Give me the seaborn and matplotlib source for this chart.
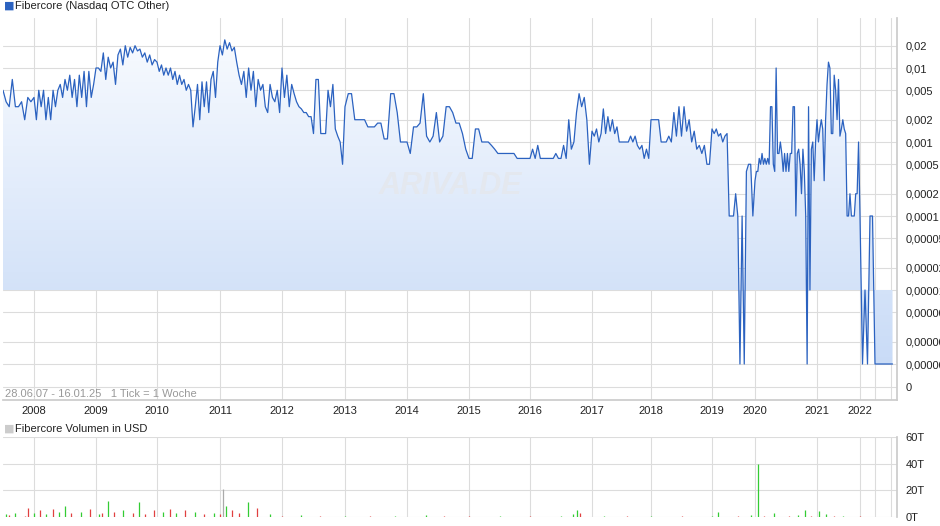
import numpy as np
import matplotlib
matplotlib.use("Agg")
import matplotlib.pyplot as plt
import seaborn as sns
from matplotlib.patches import Polygon

# price per year segment (values in USD)
price_segments = {
    2007.5: [0.005, 0.0035, 0.003, 0.007, 0.003, 0.003, 0.0035, 0.002, 0.004, 0.0035],
    2008: [0.004, 0.002, 0.005, 0.003, 0.005, 0.002, 0.004, 0.002, 0.005, 0.003, 0.005, 0.006, 0.004,
           0.007, 0.005, 0.008, 0.004, 0.007, 0.003, 0.008, 0.004, 0.009, 0.003, 0.009, 0.004, 0.006],
    2009: [0.01, 0.01, 0.009, 0.016, 0.007, 0.014, 0.01, 0.012, 0.006, 0.015, 0.018, 0.011, 0.02,
           0.014, 0.019, 0.016, 0.02, 0.017, 0.018, 0.014, 0.016, 0.012, 0.015, 0.011, 0.013],
    2010: [0.012, 0.009, 0.011, 0.008, 0.01, 0.008, 0.01, 0.007, 0.009, 0.006, 0.008, 0.006, 0.007,
           0.005, 0.006, 0.005, 0.0016, 0.003, 0.006, 0.002, 0.0065, 0.003, 0.0065, 0.0025, 0.007,
           0.009, 0.004, 0.012],
    2011: [0.02, 0.015, 0.024, 0.018, 0.022, 0.017, 0.019, 0.012, 0.008, 0.006, 0.009, 0.004, 0.01,
           0.005, 0.009, 0.003, 0.007, 0.005, 0.006, 0.003, 0.0025, 0.006, 0.004, 0.0035, 0.005, 0.0025],
    2012: [0.01, 0.004, 0.008, 0.003, 0.006, 0.0045, 0.0035, 0.003, 0.0028, 0.0025, 0.0025, 0.0022,
           0.0022, 0.0013, 0.007, 0.007, 0.0013, 0.0013, 0.0013, 0.005, 0.003, 0.006, 0.0015, 0.0012,
           0.001, 0.0005],
    2013: [0.003, 0.0045, 0.0045, 0.002, 0.002, 0.002, 0.002, 0.0016, 0.0016, 0.0016, 0.0018, 0.0018,
           0.0011, 0.0011, 0.0045, 0.0045, 0.0025, 0.001, 0.001],
    2014: [0.001, 0.0007, 0.0016, 0.0016, 0.0018, 0.0045, 0.0012, 0.001, 0.0012, 0.0025, 0.001,
           0.0012, 0.003, 0.003, 0.0025, 0.0018, 0.0018, 0.0013, 0.0008],
    2015: [0.0006, 0.0006, 0.0015, 0.0015, 0.001, 0.001, 0.001, 0.0009, 0.0008, 0.0007, 0.0007,
           0.0007, 0.0007, 0.0007, 0.0007, 0.0006, 0.0006, 0.0006, 0.0006],
    2016: [0.0006, 0.0008, 0.0006, 0.0009, 0.0006, 0.0006, 0.0006, 0.0006, 0.0006, 0.0006, 0.0007,
           0.0006, 0.0006, 0.0009, 0.0006, 0.002, 0.0008, 0.001, 0.0025, 0.0045, 0.003, 0.004, 0.002,
           0.0005],
    2017: [0.0014, 0.0012, 0.0015, 0.001, 0.0013, 0.0028, 0.0013, 0.0022, 0.0014, 0.002, 0.0013,
           0.0016, 0.001, 0.001, 0.001, 0.001, 0.001, 0.0012, 0.001, 0.0012, 0.0009, 0.0008, 0.0009,
           0.0006, 0.0008, 0.0006],
    2018: [0.002, 0.002, 0.002, 0.002, 0.001, 0.001, 0.001, 0.0012, 0.001, 0.0025, 0.0012, 0.003,
           0.0012, 0.003, 0.0014, 0.002, 0.001, 0.0014, 0.0008, 0.0009, 0.0007, 0.0009, 0.0005, 0.0005],
    2019: [0.0015, 0.0013, 0.0015, 0.0012, 0.0013, 0.001, 0.0012, 0.0013, 0.0001, 0.0001, 0.0001,
           0.0002, 0.0001, 0.000001, 0.0001, 0.000001, 0.0004, 0.0005, 0.0005, 0.0001],
    2020: [0.0003, 0.0004, 0.0004, 0.0006, 0.0005, 0.0007, 0.0005, 0.0006, 0.0005, 0.0006, 0.0005,
           0.003, 0.003, 0.0005, 0.0004, 0.01, 0.0007, 0.0007, 0.001, 0.0007, 0.0004, 0.0007, 0.0004,
           0.0007, 0.0004, 0.0007, 0.0007, 0.003, 0.003, 0.0001, 0.0007, 0.0008, 0.0005, 0.0002,
           0.0008, 0.0004, 0.0001, 0.000001, 0.003, 0.00001, 0.0008, 0.001, 0.0003, 0.001],
    2021: [0.002, 0.001, 0.0015, 0.002, 0.0015, 0.0003, 0.002, 0.006, 0.012, 0.01, 0.0013, 0.0013,
           0.008, 0.005, 0.002, 0.007, 0.0012, 0.0015, 0.002, 0.0015, 0.0013, 0.0001, 0.0001, 0.0002,
           0.0001, 0.0001, 0.0001, 0.0002, 0.0002, 0.001],
    2022: [0.0001, 0.000001, 0.00001, 0.000001, 0.0001, 0.0001, 0.000001, 0.000001, 0.000001,
           0.000001, 0.000001, 0.000001, 0.000001, 0.000001],
}
segment_end = {2007.5: 2008, 2022: 2022.9}

# volume bars (year, thousands USD, up/down)
vol_dates = [2007.55, 2007.6, 2007.7, 2007.85, 2007.9, 2008.0, 2008.1, 2008.2, 2008.3, 2008.4,
             2008.5, 2008.6, 2008.75, 2008.9, 2009.05, 2009.1, 2009.2, 2009.3, 2009.45, 2009.6,
             2009.7, 2009.8, 2009.95, 2010.1, 2010.2, 2010.3, 2010.45, 2010.6, 2010.75, 2010.9,
             2011.0, 2011.05, 2011.1, 2011.2, 2011.3, 2011.45, 2011.6, 2011.8, 2012.0, 2012.3,
             2012.6, 2013.0, 2013.4, 2013.8, 2014.3, 2014.6, 2015.0, 2015.5, 2016.0, 2016.5,
             2016.7, 2016.75, 2016.8, 2017.2, 2017.6, 2018.0, 2018.5, 2019.0, 2019.15, 2019.6,
             2019.9, 2020.05, 2020.15, 2020.3, 2020.55, 2020.7, 2020.8, 2020.9, 2021.05, 2021.2,
             2021.4, 2021.6, 2022.0, 2022.3, 2022.6]
vol_values = [2, 1.5, 3, 1, 7, 3, 5, 2, 6, 4, 8, 3, 4, 6, 2, 3, 12, 4, 5, 3, 11, 2, 5, 4, 6, 3, 5,
              4, 2, 3, 2, 21, 8, 5, 3, 11, 7, 2, 1, 1.5, 1, 1, 0.8, 0.7, 1.5, 1, 0.8, 1, 0.7, 0.8,
              2, 5, 3, 1, 0.8, 1, 0.8, 1, 4, 1, 1.5, 40, 1, 3, 1, 1.5, 5.5, 1, 4.5, 2, 1, 0.5,
              0.5, 0.3, 0.3]
vol_up = [1, 0, 1, 0, 0, 1, 0, 1, 0, 1, 1, 0, 1, 0, 1, 0, 1, 0, 1, 0, 1, 0, 0, 1, 0, 1, 0, 1, 0,
          1, 0, 2, 1, 0, 0, 1, 0, 1, 0, 1, 0, 1, 0, 1, 1, 0, 0, 1, 0, 1, 1, 1, 0, 1, 0, 1, 0, 1,
          1, 0, 1, 1, 0, 1, 0, 1, 1, 0, 1, 1, 0, 1, 0, 1, 0]

year_ticks = list(range(2008, 2023))
tick_px = [34, 96, 157, 220, 282, 345, 407, 469, 530, 592, 651, 712, 755, 817, 860]
anchor_years = [2007.5] + year_ticks + [2022.9]
anchor_px = [3] + tick_px + [895]


def to_pos(d):
    return np.interp(d, anchor_years, anchor_px)


dates, prices = [], []
for s in sorted(price_segments):
    vals = price_segments[s]
    e = segment_end.get(s, s + 1)
    dates += list(np.linspace(s, e, len(vals), endpoint=False))
    prices += vals
xpos = to_pos(np.array(dates))
prices = np.array(prices)

sns.set_theme(style="white")
plt.rcParams['font.family'] = ['Liberation Sans', 'DejaVu Sans']
W, H = 940, 526
fig = plt.figure(figsize=(W / 100, H / 100), dpi=100)
ax = fig.add_axes([3 / W, 1 - 400 / H, 894 / W, 382 / H])
ax2 = fig.add_axes([3 / W, 9 / H, 894 / W, 80 / H])

grid_c = "#dcdcdc"
ytick_vals = [0.02, 0.01, 0.005, 0.002, 0.001, 0.0005, 0.0002, 0.0001, 0.00005, 0.00002,
              0.00001, 0.000005, 0.000002, 0.000001, 10 ** (-6 - 23 / 74)]
ytick_labels = ["0,02", "0,01", "0,005", "0,002", "0,001", "0,0005", "0,0002", "0,0001",
                "0,00005", "0,00002", "0,00001", "0,000005", "0,000002", "0,000001", "0"]

ax.set_yscale("log")
ax.set_ylim(10 ** (-6 - 36 / 74), 10 ** (-6 + 346 / 74))
ax.set_xlim(3, 897)

# gradient fill between price and baseline
base = 1e-5
verts = np.column_stack([np.r_[xpos, xpos[::-1]], np.r_[prices, np.full(len(prices), base)]])
poly = Polygon(verts, closed=True, facecolor="none", edgecolor="none")
ax.add_patch(poly)
grad = np.linspace(0, 1, 256).reshape(-1, 1)
cmap = matplotlib.colors.LinearSegmentedColormap.from_list("g", ["#c4d8f6", "#fafcff"])
im = ax.imshow(grad, extent=[0, 1, 0, 1], transform=ax.transAxes, aspect="auto",
               cmap=cmap, origin="lower", zorder=1)
im.set_clip_path(poly)
sns.lineplot(x=xpos, y=prices, ax=ax, color="#2b62c0", lw=0.9, zorder=3, sort=False)

ax.set_yticks(ytick_vals)
ax.set_yticklabels(ytick_labels)
ax.yaxis.set_minor_locator(matplotlib.ticker.NullLocator())
ax.yaxis.tick_right()
ax.set_xticks(tick_px + [875, 891])
ax.set_xticklabels([str(y) for y in year_ticks] + ["", ""])
ax.tick_params(axis="both", length=0, labelsize=8, colors="#222222", pad=4)
ax.tick_params(axis="y", pad=6)
for lab in ax.get_yticklabels():
    lab.set_ha("left")
ax.grid(True, color=grid_c, lw=0.8)
for s in ax.spines.values():
    s.set_visible(False)
ax.spines["right"].set_visible(True)
ax.spines["right"].set_color("#cccccc")
ax.spines["bottom"].set_visible(True)
ax.spines["bottom"].set_color("#cccccc")

ax.text(0.5, 0.56, "ARIVA.DE", transform=ax.transAxes, fontsize=22, color="#e4e8ef",
        style="italic", fontweight="bold", ha="center", va="center", zorder=2)
ax.text(5, 10 ** (-6 - 30 / 74), "28.06.07 - 16.01.25   1 Tick = 1 Woche", fontsize=8,
        color="#999999", va="center", ha="left")

# volume
vpos = to_pos(np.array(vol_dates))
colors = ["#e04040" if u == 0 else "#33cc33" for u in vol_up]
colors = [c if u != 2 else "#aaaaaa" for c, u in zip(colors, vol_up)]
ax2.vlines(vpos, 0, vol_values, colors=colors, lw=0.9)
ax2.set_xlim(3, 897)
ax2.set_ylim(0, 60)
ax2.set_yticks([0, 20, 40, 60])
ax2.set_yticklabels(["0T", "20T", "40T", "60T"])
ax2.yaxis.tick_right()
ax2.set_xticks(tick_px + [875, 891])
ax2.set_xticklabels([])
ax2.tick_params(axis="both", length=0, labelsize=8, colors="#222222", pad=6)
ax2.grid(True, color=grid_c, lw=0.8)
for s in ax2.spines.values():
    s.set_visible(False)
ax2.spines["right"].set_visible(True)
ax2.spines["right"].set_color("#cccccc")

fig.text(4 / W, 1 - 6 / H, "■", color="#2b62c0", fontsize=8, va="center", family="DejaVu Sans")
fig.text(15 / W, 1 - 6 / H, "Fibercore (Nasdaq OTC Other)", fontsize=8, va="center", color="#222222")
fig.text(4 / W, 1 - 429 / H, "■", color="#cccccc", fontsize=8, va="center", family="DejaVu Sans")
fig.text(15 / W, 1 - 429 / H, "Fibercore Volumen in USD", fontsize=8, va="center", color="#222222")

fig.savefig("out.png", dpi=100)
